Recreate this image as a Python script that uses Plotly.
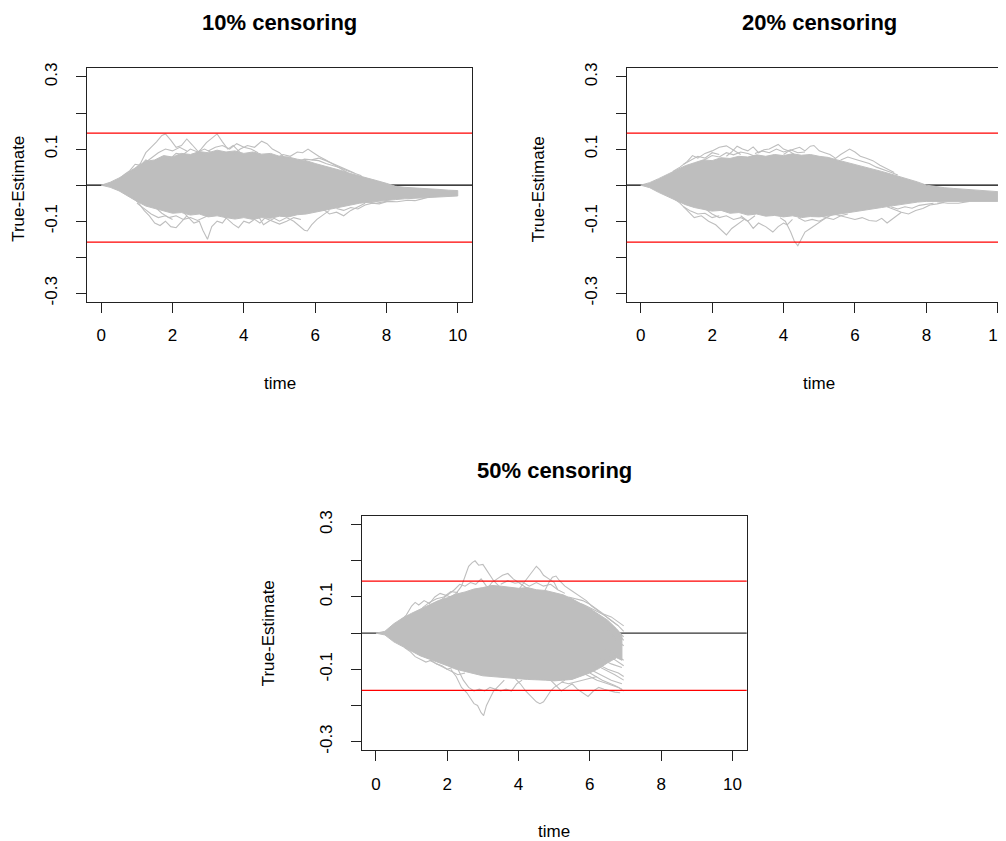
import plotly.graph_objects as go

# ---------------- data ----------------
TITLES = ["10% censoring", "20% censoring", "50% censoring"]
X_LABEL = "time"
Y_LABEL = "True-Estimate"
X_TICKS = [0, 2, 4, 6, 8, 10]
Y_TICKS = [-0.3, -0.2, -0.1, 0.0, 0.1, 0.2, 0.3]
Y_TICK_TEXT = ["-0.3", "", "-0.1", "", "0.1", "", "0.3"]
RED_UPPER = 0.144
RED_LOWER = -0.158
ZERO = 0.0

# dense band of the simulated curves (upper / lower edge), panel 1
P1_CORE_T = [0, 0.25, 0.5, 0.75, 1, 1.25, 1.5, 1.75, 2, 2.25, 2.5, 2.75, 3, 3.25, 3.5, 3.75, 4,
             4.25, 4.5, 4.75, 5, 5.25, 5.5, 5.75, 6, 6.25, 6.5, 6.75, 7, 7.25, 7.5, 7.75, 8,
             8.25, 8.5, 8.75, 9, 9.25, 9.5, 9.75, 10]
P1_CORE_HI = [0, 0.008, 0.02, 0.036, 0.05, 0.066, 0.07, 0.082, 0.078, 0.088, 0.085, 0.093, 0.09,
              0.097, 0.092, 0.095, 0.088, 0.092, 0.086, 0.088, 0.08, 0.078, 0.072, 0.068, 0.06,
              0.054, 0.046, 0.04, 0.032, 0.026, 0.019, 0.012, 0.005, -0.003, -0.006, -0.008,
              -0.01, -0.011, -0.012, -0.014, -0.015]
P1_CORE_LO = [0, -0.006, -0.016, -0.03, -0.045, -0.058, -0.066, -0.072, -0.078, -0.076, -0.083,
              -0.08, -0.088, -0.085, -0.09, -0.094, -0.09, -0.095, -0.09, -0.092, -0.086, -0.088,
              -0.082, -0.08, -0.074, -0.07, -0.064, -0.06, -0.055, -0.05, -0.047, -0.044, -0.042,
              -0.04, -0.038, -0.036, -0.035, -0.034, -0.033, -0.031, -0.03]
# individual curves that stick out of the band, panel 1
P1_SEG_T = [
    [0.9, 1.1, 1.25, 1.4, 1.55, 1.7, 1.8, 1.95, 2.1, 2.25, 2.4, 2.55, 2.7, 2.9],
    [2.6, 2.8, 2.95, 3.1, 3.25, 3.4, 3.55, 3.7, 3.85, 4.0],
    [3.7, 3.9, 4.1, 4.3, 4.5, 4.65, 4.8, 5.0, 5.2],
    [4.9, 5.1, 5.3, 5.5, 5.65, 5.8, 5.95, 6.1, 6.3, 6.5, 6.7, 6.9],
    [0.5, 0.65, 0.8, 0.95, 1.1, 1.25, 1.4],
    [1.9, 2.1, 2.3, 2.5, 2.7, 2.9, 3.1],
    [5.5, 5.7, 5.9, 6.1, 6.3, 6.5, 6.7, 6.9, 7.1, 7.3],
    [1.2, 1.4, 1.6, 1.8, 2.0, 2.2, 2.4],
    [3.0, 3.2, 3.4, 3.6, 3.8, 4.0, 4.2, 4.4],
    [5.9, 6.1, 6.3, 6.5, 6.7, 6.9, 7.1],
    [0.9, 1.05, 1.2, 1.35, 1.5, 1.65, 1.8, 1.95, 2.1, 2.25, 2.4],
    [2.3, 2.45, 2.6, 2.75, 2.85, 2.98, 3.1, 3.25, 3.4, 3.55],
    [3.4, 3.55, 3.7, 3.85, 4.0, 4.15, 4.3, 4.45, 4.6],
    [4.4, 4.55, 4.7, 4.85, 5.0, 5.2, 5.4, 5.55, 5.7, 5.78, 5.9, 6.05, 6.2, 6.4],
    [6.2, 6.4, 6.6, 6.8, 7.0, 7.2, 7.4],
    [1.5, 1.7, 1.9, 2.1, 2.3, 2.5, 2.7, 2.9, 3.1],
    [7.4, 7.7, 8.0, 8.3, 8.6, 8.8, 9.0, 9.2],
    [1.0, 1.2, 1.4, 1.6, 1.8, 2.0],
    [4.6, 4.8, 5.0, 5.2, 5.4, 5.6],
    [6.6, 6.8, 7.0, 7.2, 7.4, 7.6, 7.8, 8.0],
]
P1_SEG_Y = [
    [0.04, 0.06, 0.09, 0.105, 0.12, 0.138, 0.142, 0.125, 0.105, 0.11, 0.128, 0.112, 0.095, 0.08],
    [0.08, 0.1, 0.118, 0.13, 0.142, 0.12, 0.1, 0.11, 0.095, 0.08],
    [0.085, 0.1, 0.11, 0.105, 0.122, 0.115, 0.1, 0.09, 0.07],
    [0.075, 0.085, 0.08, 0.092, 0.09, 0.1, 0.09, 0.08, 0.07, 0.058, 0.045, 0.035],
    [0.015, 0.03, 0.04, 0.058, 0.055, 0.07, 0.062],
    [0.07, 0.088, 0.085, 0.1, 0.092, 0.1, 0.09],
    [0.065, 0.072, 0.07, 0.068, 0.06, 0.055, 0.048, 0.04, 0.032, 0.026],
    [0.06, 0.075, 0.09, 0.1, 0.095, 0.105, 0.095],
    [0.095, 0.105, 0.11, 0.1, 0.115, 0.105, 0.1, 0.09],
    [0.07, 0.075, 0.068, 0.06, 0.05, 0.042, 0.034],
    [-0.035, -0.05, -0.07, -0.085, -0.105, -0.112, -0.1, -0.115, -0.118, -0.1, -0.085],
    [-0.075, -0.09, -0.105, -0.1, -0.125, -0.15, -0.115, -0.1, -0.105, -0.085],
    [-0.085, -0.095, -0.108, -0.118, -0.1, -0.105, -0.095, -0.105, -0.09],
    [-0.085, -0.11, -0.1, -0.092, -0.1, -0.09, -0.1, -0.112, -0.125, -0.127, -0.11, -0.095, -0.085, -0.07],
    [-0.065, -0.08, -0.075, -0.085, -0.07, -0.06, -0.05],
    [-0.06, -0.078, -0.09, -0.085, -0.095, -0.09, -0.098, -0.088, -0.08],
    [-0.045, -0.05, -0.045, -0.046, -0.042, -0.043, -0.038, -0.033],
    [-0.05, -0.065, -0.08, -0.09, -0.085, -0.095],
    [-0.092, -0.1, -0.108, -0.1, -0.09, -0.095],
    [-0.065, -0.07, -0.062, -0.066, -0.055, -0.05, -0.052, -0.046],
]

# panel 2
P2_CORE_T = P1_CORE_T
P2_CORE_HI = [0, 0.007, 0.018, 0.03, 0.042, 0.054, 0.062, 0.07, 0.068, 0.076, 0.074, 0.08, 0.078,
              0.084, 0.08, 0.085, 0.082, 0.087, 0.083, 0.085, 0.08, 0.077, 0.07, 0.064, 0.058, 0.05,
              0.045, 0.038, 0.031, 0.024, 0.017, 0.009, 0.0, -0.004, -0.007, -0.009, -0.011, -0.012,
              -0.014, -0.016, -0.018]
P2_CORE_LO = [0, -0.007, -0.02, -0.032, -0.043, -0.054, -0.062, -0.068, -0.072, -0.07, -0.078,
              -0.076, -0.083, -0.08, -0.086, -0.084, -0.088, -0.085, -0.09, -0.087, -0.088, -0.085,
              -0.082, -0.078, -0.075, -0.07, -0.066, -0.062, -0.058, -0.054, -0.05, -0.047, -0.045,
              -0.044, -0.043, -0.043, -0.043, -0.044, -0.044, -0.045, -0.045]
P2_SEG_T = [
    [0.9, 1.1, 1.3, 1.45, 1.6, 1.8, 2.0, 2.2, 2.4, 2.6, 2.8],
    [2.4, 2.55, 2.7, 2.85, 3.0, 3.15, 3.3, 3.45, 3.6, 3.75, 3.85, 4.0, 4.15, 4.3],
    [4.0, 4.15, 4.3, 4.45, 4.6, 4.75, 4.85, 5.0, 5.15, 5.3, 5.45],
    [5.2, 5.4, 5.6, 5.75, 5.85, 6.0, 6.15, 6.3, 6.5, 6.7, 6.9, 7.1],
    [1.6, 1.8, 2.0, 2.2, 2.4, 2.6, 2.8, 3.0, 3.2],
    [1.2, 1.4, 1.6, 1.8, 2.0, 2.2],
    [3.2, 3.4, 3.6, 3.8, 4.0, 4.2, 4.4, 4.6],
    [5.6, 5.8, 6.0, 6.2, 6.4, 6.6, 6.8, 7.0, 7.2],
    [0.9, 1.1, 1.3, 1.5, 1.7, 1.9, 2.1, 2.25, 2.4, 2.55, 2.7, 2.9],
    [2.8, 3.0, 3.15, 3.3, 3.5, 3.7, 3.85, 4.0, 4.1, 4.25],
    [3.9, 4.05, 4.2, 4.3, 4.4, 4.5, 4.6, 4.75, 4.9, 5.05, 5.2],
    [5.0, 5.2, 5.4, 5.6, 5.8, 6.0, 6.2, 6.4, 6.6, 6.75, 6.9, 7.1, 7.3],
    [6.9, 7.1, 7.3, 7.5, 7.7, 7.9, 8.1, 8.3, 8.5],
    [1.8, 2.0, 2.2, 2.4, 2.6, 2.8, 3.0, 3.2],
    [8.3, 8.6, 8.9, 9.2],
    [1.2, 1.4, 1.6, 1.8, 2.0, 2.2],
    [4.4, 4.6, 4.8, 5.0, 5.2, 5.4, 5.6, 5.8],
    [7.0, 7.2, 7.4, 7.6, 7.8, 8.0, 8.2],
]
P2_SEG_Y = [
    [0.038, 0.05, 0.065, 0.082, 0.075, 0.088, 0.095, 0.105, 0.109, 0.098, 0.085],
    [0.08, 0.092, 0.108, 0.1, 0.095, 0.106, 0.09, 0.098, 0.1, 0.108, 0.113, 0.1, 0.095, 0.085],
    [0.085, 0.095, 0.1, 0.105, 0.095, 0.108, 0.11, 0.095, 0.09, 0.085, 0.075],
    [0.075, 0.07, 0.085, 0.095, 0.1, 0.092, 0.08, 0.075, 0.068, 0.055, 0.045, 0.035],
    [0.06, 0.072, 0.082, 0.078, 0.09, 0.084, 0.092, 0.088, 0.08],
    [0.058, 0.07, 0.08, 0.075, 0.09, 0.085],
    [0.088, 0.095, 0.09, 0.1, 0.092, 0.098, 0.09, 0.092],
    [0.07, 0.078, 0.072, 0.066, 0.06, 0.05, 0.044, 0.036, 0.028],
    [-0.035, -0.05, -0.07, -0.09, -0.085, -0.1, -0.11, -0.125, -0.138, -0.12, -0.11, -0.095],
    [-0.085, -0.1, -0.12, -0.105, -0.115, -0.13, -0.115, -0.105, -0.11, -0.095],
    [-0.09, -0.1, -0.13, -0.155, -0.168, -0.15, -0.13, -0.12, -0.11, -0.1, -0.09],
    [-0.085, -0.09, -0.08, -0.085, -0.09, -0.095, -0.09, -0.098, -0.1, -0.092, -0.105, -0.09, -0.075],
    [-0.06, -0.068, -0.075, -0.08, -0.07, -0.065, -0.055, -0.052, -0.048],
    [-0.065, -0.08, -0.09, -0.085, -0.095, -0.09, -0.1, -0.085],
    [-0.046, -0.05, -0.05, -0.045],
    [-0.06, -0.072, -0.08, -0.078, -0.09, -0.085],
    [-0.09, -0.1, -0.095, -0.1, -0.09, -0.095, -0.085, -0.08],
    [-0.06, -0.066, -0.06, -0.064, -0.056, -0.052, -0.05],
]

# panel 3
P3_CORE_T = [0, 0.25, 0.5, 0.75, 1, 1.25, 1.5, 1.75, 2, 2.25, 2.5, 2.75, 3, 3.25, 3.5, 3.75, 4,
             4.25, 4.5, 4.75, 5, 5.25, 5.5, 5.75, 6, 6.25, 6.5, 6.75, 6.9]
P3_CORE_HI = [0, 0.005, 0.026, 0.042, 0.055, 0.066, 0.078, 0.09, 0.098, 0.108, 0.114, 0.122, 0.126,
              0.132, 0.13, 0.128, 0.124, 0.126, 0.12, 0.118, 0.112, 0.106, 0.095, 0.082, 0.068,
              0.052, 0.036, 0.012, -0.005]
P3_CORE_LO = [0, -0.005, -0.024, -0.038, -0.05, -0.063, -0.072, -0.082, -0.09, -0.1, -0.106, -0.112,
              -0.118, -0.12, -0.122, -0.124, -0.126, -0.128, -0.13, -0.13, -0.132, -0.13, -0.128,
              -0.12, -0.11, -0.098, -0.082, -0.068, -0.075]
P3_SEG_T = [
    [0.7, 0.85, 1.0, 1.1, 1.2, 1.35, 1.5, 1.65, 1.8, 1.95, 2.1],
    [2.1, 2.25, 2.4, 2.5, 2.6, 2.7, 2.78, 2.88, 3.0, 3.1, 3.2, 3.3, 3.45, 3.6],
    [3.1, 3.25, 3.4, 3.55, 3.7, 3.85, 4.0, 4.15, 4.3],
    [4.0, 4.15, 4.3, 4.4, 4.5, 4.6, 4.7, 4.85, 5.0, 5.1],
    [4.7, 4.85, 4.95, 5.05, 5.15, 5.3, 5.45, 5.6, 5.75, 5.9, 6.05, 6.2, 6.4, 6.6, 6.8],
    [1.8, 2.0, 2.2, 2.35, 2.5, 2.65, 2.8, 2.95, 3.1],
    [5.4, 5.6, 5.8, 6.0, 6.2, 6.4, 6.6, 6.8, 6.95],
    [6.4, 6.7, 6.95],
    [1.3, 1.5, 1.7, 1.9, 2.1, 2.3],
    [3.5, 3.7, 3.9, 4.1, 4.3, 4.5, 4.7, 4.9, 5.1, 5.3],
    [5.6, 5.8, 6.0, 6.2, 6.4, 6.6, 6.8, 6.95],
    [6.3, 6.6, 6.95],
    [6.5, 6.75, 6.95],
    [0.8, 0.95, 1.1, 1.25, 1.4, 1.55, 1.7, 1.85, 2.0, 2.15],
    [2.1, 2.25, 2.4, 2.55, 2.65, 2.75, 2.85, 2.95, 3.02, 3.1, 3.2, 3.3, 3.45, 3.6],
    [2.3, 2.45, 2.6, 2.75, 2.9, 3.05, 3.2, 3.35, 3.5, 3.65, 3.8, 3.95, 4.1],
    [3.9, 4.05, 4.2, 4.35, 4.5, 4.6, 4.7, 4.8, 4.9, 5.0, 5.15, 5.3],
    [4.9, 5.05, 5.2, 5.35, 5.5, 5.65, 5.8, 5.95, 6.1, 6.25, 6.4, 6.55, 6.7, 6.85],
    [6.0, 6.3, 6.6, 6.9],
    [6.2, 6.5, 6.8, 6.95],
    [6.3, 6.6, 6.9],
    [5.6, 5.9, 6.2, 6.5, 6.8, 6.95],
    [6.4, 6.7, 6.95],
    [1.5, 1.7, 1.9, 2.1, 2.3, 2.5],
    [5.2, 5.4, 5.6, 5.8, 6.0, 6.2],
    [6.1, 6.4, 6.7, 6.95],
    [6.5, 6.8, 6.95],
    [6.0, 6.35, 6.7, 6.9],
]
P3_SEG_Y = [
    [0.035, 0.05, 0.075, 0.085, 0.078, 0.09, 0.082, 0.1, 0.11, 0.105, 0.1],
    [0.1, 0.11, 0.13, 0.16, 0.185, 0.195, 0.2, 0.188, 0.19, 0.175, 0.16, 0.145, 0.13, 0.12],
    [0.12, 0.14, 0.15, 0.16, 0.165, 0.15, 0.14, 0.13, 0.12],
    [0.12, 0.14, 0.16, 0.175, 0.185, 0.175, 0.16, 0.15, 0.14, 0.12],
    [0.11, 0.14, 0.155, 0.158, 0.145, 0.13, 0.12, 0.11, 0.1, 0.09, 0.075, 0.065, 0.05, 0.035, 0.02],
    [0.09, 0.105, 0.12, 0.135, 0.13, 0.14, 0.135, 0.15, 0.13],
    [0.1, 0.095, 0.09, 0.08, 0.065, 0.052, 0.045, 0.03, 0.02],
    [0.03, 0.01, -0.02],
    [0.07, 0.085, 0.095, 0.1, 0.115, 0.112],
    [0.135, 0.145, 0.138, 0.142, 0.13, 0.14, 0.13, 0.135, 0.12, 0.11],
    [0.085, 0.08, 0.07, 0.06, 0.05, 0.035, 0.02, 0.005],
    [0.04, 0.02, -0.01],
    [0.01, -0.02, -0.035],
    [-0.04, -0.05, -0.065, -0.072, -0.08, -0.075, -0.085, -0.09, -0.1, -0.095],
    [-0.1, -0.12, -0.15, -0.165, -0.18, -0.195, -0.2, -0.22, -0.228, -0.2, -0.18, -0.16, -0.145, -0.13],
    [-0.1, -0.13, -0.15, -0.16, -0.155, -0.16, -0.15, -0.155, -0.16, -0.155, -0.16, -0.14, -0.13],
    [-0.125, -0.14, -0.16, -0.175, -0.19, -0.195, -0.19, -0.175, -0.16, -0.15, -0.14, -0.13],
    [-0.13, -0.145, -0.16, -0.15, -0.14, -0.155, -0.165, -0.175, -0.16, -0.15, -0.155, -0.16, -0.163, -0.165],
    [-0.1, -0.115, -0.13, -0.14],
    [-0.085, -0.1, -0.11, -0.12],
    [-0.07, -0.085, -0.095],
    [-0.1, -0.115, -0.13, -0.14, -0.15, -0.16],
    [-0.04, -0.06, -0.075],
    [-0.075, -0.085, -0.095, -0.105, -0.115, -0.11],
    [-0.135, -0.14, -0.135, -0.13, -0.125, -0.12],
    [-0.085, -0.1, -0.115, -0.13],
    [-0.06, -0.08, -0.09],
    [-0.11, -0.13, -0.145, -0.155],
]

# ---------------- layout (target page pixels; the page body has an 8 px margin) ----------------
PAGE_OFF = 8
W, H = 1006 - PAGE_OFF, 841 - PAGE_OFF
FONT = "Liberation Sans, Arial, sans-serif"
GRAY = "#BEBEBE"
AXC = "#222222"


def px_x(v):
    return (v - PAGE_OFF) / W


def px_y(v):
    return 1 - (v - PAGE_OFF) / H


PANELS = [
    dict(box=(87.0, 472.0, 68.3, 302.0), xr=[-0.4, 10.4], ylab_x=18.8, ylab_y=189, cx=279.5,
         core=(P1_CORE_T, P1_CORE_HI, P1_CORE_LO), seg=(P1_SEG_T, P1_SEG_Y), ymirror=True, zc="#000000"),
    dict(box=(626.7, 1006.0, 68.3, 302.0), xr=[-0.392, 10.23], ylab_x=539.3, ylab_y=189, cx=819.0,
         core=(P2_CORE_T, P2_CORE_HI, P2_CORE_LO), seg=(P2_SEG_T, P2_SEG_Y), ymirror=False, zc="#000000"),
    dict(box=(361.7, 746.7, 516.0, 750.3), xr=[-0.4, 10.4], ylab_x=268.3, ylab_y=633, cx=554.2,
         core=(P3_CORE_T, P3_CORE_HI, P3_CORE_LO), seg=(P3_SEG_T, P3_SEG_Y), ymirror=True, zc="#333333"),
]

fig = go.Figure()
annotations = []
shapes = []
layout_axes = {}

for i, p in enumerate(PANELS):
    n = "" if i == 0 else str(i + 1)
    xa, ya = "x" + n, "y" + n
    l, r, t, b = p["box"]
    ct, chi, clo = p["core"]
    fig.add_trace(go.Scatter(
        x=list(ct) + list(ct[::-1]), y=list(chi) + list(clo[::-1]),
        mode="lines", fill="toself", fillcolor=GRAY,
        line=dict(color=GRAY, width=1), xaxis=xa, yaxis=ya,
        hoverinfo="skip", showlegend=False))
    for st, sy in zip(*p["seg"]):
        fig.add_trace(go.Scatter(
            x=st, y=sy, mode="lines", line=dict(color=GRAY, width=1.1),
            xaxis=xa, yaxis=ya, hoverinfo="skip", showlegend=False))

    shapes.append(dict(type="line", xref=xa + " domain", yref=ya, x0=0, x1=1, y0=ZERO, y1=ZERO,
                       line=dict(color=p["zc"], width=1.2), layer="below"))
    for yv in (RED_UPPER, RED_LOWER):
        shapes.append(dict(type="line", xref=xa + " domain", yref=ya, x0=0, x1=1, y0=yv, y1=yv,
                           line=dict(color="#FF0000", width=1.2), layer="above"))

    layout_axes["xaxis" + n] = dict(
        domain=[px_x(l), min(1.0, px_x(r))], range=p["xr"], anchor=ya, automargin=False,
        tickmode="array", tickvals=X_TICKS, ticktext=[str(v) for v in X_TICKS],
        ticks="outside", ticklen=10, tickwidth=1, tickcolor=AXC,
        showline=True, linecolor=AXC, linewidth=1, mirror=True,
        showgrid=False, zeroline=False, ticklabeloverflow="allow",
        tickfont=dict(family=FONT, size=17, color="#000000"), ticklabelstandoff=8)
    layout_axes["yaxis" + n] = dict(
        domain=[px_y(b), px_y(t)], range=[-0.324, 0.324], anchor=xa, automargin=False,
        tickmode="array", tickvals=Y_TICKS, ticktext=Y_TICK_TEXT, tickangle=-90,
        ticks="outside", ticklen=10, tickwidth=1, tickcolor=AXC,
        showline=True, linecolor=AXC, linewidth=1, mirror=p["ymirror"],
        showgrid=False, zeroline=False, ticklabeloverflow="allow",
        tickfont=dict(family=FONT, size=17, color="#000000"), ticklabelstandoff=12)

    annotations.append(dict(text="<b>" + TITLES[i] + "</b>", xref="paper", yref="paper",
                            x=px_x(p["cx"]), y=px_y(t - 45.5), xanchor="center", yanchor="middle",
                            showarrow=False, font=dict(family=FONT, size=22, color="#000000")))
    annotations.append(dict(text=X_LABEL, xref="paper", yref="paper",
                            x=px_x(p["cx"]), y=px_y(b + 81), xanchor="center", yanchor="middle",
                            showarrow=False, font=dict(family=FONT, size=17, color="#000000")))
    annotations.append(dict(text=Y_LABEL, xref="paper", yref="paper", textangle=-90,
                            x=px_x(p["ylab_x"]), y=px_y(p["ylab_y"]), xanchor="center", yanchor="middle",
                            showarrow=False, font=dict(family=FONT, size=17, color="#000000")))

fig.update_layout(
    width=W, height=H, autosize=False,
    margin=dict(l=0, r=0, t=0, b=0, pad=0),
    paper_bgcolor="white", plot_bgcolor="white",
    showlegend=False, annotations=annotations, shapes=shapes,
    font=dict(family=FONT, color="#000000"),
    **layout_axes)

fig.write_html("out.html")
